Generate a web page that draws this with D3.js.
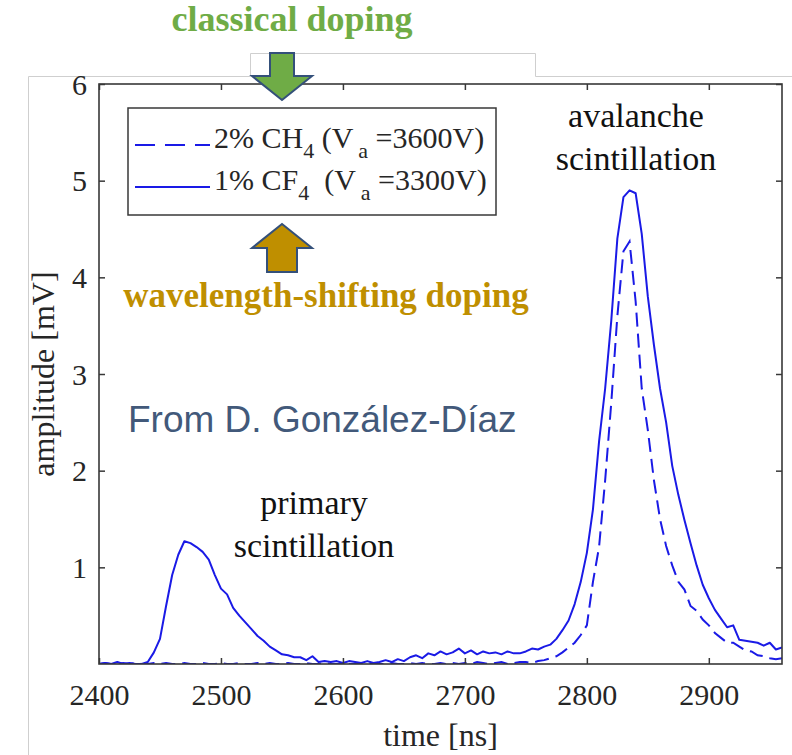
<!DOCTYPE html>
<html>
<head>
<meta charset="utf-8">
<script src="https://cdn.jsdelivr.net/npm/d3@7"></script>
<style>
  body { margin: 0; background: #fff; }
  svg { display: block; }
</style>
</head>
<body>
<svg id="chart" width="792" height="755"></svg>
<script>
// Sampling grid of the digitised pulses (ns)
const sampleTimes = d3.range(2400, 2961, 5);

// 1% CF4, Va = 3300 V (solid)
const cf4Amplitude = [
  0.00, 0.01, 0.00, 0.02, 0.00, 0.01, 0.00, 0.00, 0.02, 0.12,
  0.26, 0.60, 0.92, 1.13, 1.27, 1.25, 1.21, 1.16, 1.08, 0.92,
  0.78, 0.72, 0.58, 0.50, 0.43, 0.36, 0.29, 0.24, 0.18, 0.14,
  0.10, 0.09, 0.07, 0.07, 0.04, 0.08, 0.02, 0.03, 0.02, 0.03,
  0.01, 0.03, 0.02, 0.01, 0.03, 0.01, 0.02, 0.04, 0.02, 0.05,
  0.03, 0.07, 0.09, 0.06, 0.11, 0.09, 0.13, 0.10, 0.12, 0.16,
  0.11, 0.14, 0.10, 0.13, 0.11, 0.12, 0.10, 0.13, 0.11, 0.11,
  0.13, 0.16, 0.15, 0.18, 0.20, 0.26, 0.35, 0.45, 0.62, 0.85,
  1.15, 1.60, 2.30, 2.85, 3.55, 4.40, 4.83, 4.90, 4.87, 4.45,
  3.80, 3.30, 2.85, 2.50, 2.05, 1.75, 1.49, 1.25, 1.02, 0.82,
  0.68, 0.56, 0.47, 0.38, 0.40, 0.25, 0.24, 0.23, 0.22, 0.19,
  0.22, 0.15, 0.17
];

// 2% CH4, Va = 3600 V (dashed)
const ch4Amplitude = [
  0.00, 0.01, 0.00, 0.00, 0.01, 0.00, 0.01, 0.00, 0.00, 0.01,
  0.00, 0.01, 0.00, 0.00, 0.01, 0.00, 0.00, 0.01, 0.00, 0.00,
  0.01, 0.00, 0.00, 0.01, 0.00, 0.00, 0.01, 0.00, 0.01, 0.00,
  0.00, 0.01, 0.00, 0.00, 0.01, 0.00, 0.00, 0.01, 0.00, 0.00,
  0.01, 0.00, 0.00, 0.01, 0.00, 0.01, 0.00, 0.00, 0.01, 0.00,
  0.00, 0.01, 0.00, 0.01, 0.00, 0.00, 0.01, 0.00, 0.01, 0.00,
  0.01, 0.00, 0.02, 0.01, 0.00, 0.01, 0.02, 0.00, 0.01, 0.02,
  0.02, 0.01, 0.03, 0.04, 0.06, 0.08, 0.12, 0.17, 0.22, 0.30,
  0.40, 0.85, 1.21, 1.90, 2.70, 3.60, 4.27, 4.37, 3.75, 2.85,
  2.42, 1.90, 1.50, 1.22, 1.02, 0.85, 0.77, 0.60, 0.55, 0.46,
  0.40, 0.32, 0.27, 0.22, 0.22, 0.18, 0.14, 0.13, 0.09, 0.08,
  0.06, 0.05, 0.06
];

const xTickValues = [2400, 2500, 2600, 2700, 2800, 2900];
const yTickValues = [1, 2, 3, 4, 5, 6];

const legendRows = [
  { dash: true,  parts: ["2% CH", "4", " (V", "a", " =3600V)"] },
  { dash: false, parts: ["1% CF", "4", "  (V", "a", " =3300V)"] }
];

const serif = "'Liberation Serif', 'Times New Roman', serif";
const sans = "'Liberation Sans', Arial, sans-serif";
const lineBlue = "#1a1ae6";
const axisGrey = "#383838";
const textDark = "#262626";

const svg = d3.select("#chart");

// faint outline of the pasted figure
svg.append("path")
  .attr("d", "M28.5,755 V76.5 H250.5 V53.5 H535.5 V76.5 H792")
  .attr("fill", "none")
  .attr("stroke", "#cfcfcf")
  .attr("stroke-width", 1);

const x = d3.scaleLinear().domain([2400, 2960]).range([99, 782]);
const y = d3.scaleLinear().domain([0, 6]).range([664, 84]);

// plot area
svg.append("clipPath").attr("id", "plot-clip")
  .append("rect")
  .attr("x", x(2400)).attr("y", y(6))
  .attr("width", x(2960) - x(2400)).attr("height", y(0) - y(6));

const line = d3.line()
  .x((d, i) => x(sampleTimes[i]))
  .y(d => y(d));

const plot = svg.append("g").attr("clip-path", "url(#plot-clip)");

plot.append("path")
  .datum(cf4Amplitude)
  .attr("d", line)
  .attr("fill", "none")
  .attr("stroke", lineBlue)
  .attr("stroke-width", 2)
  .attr("stroke-linejoin", "round");

plot.append("path")
  .datum(ch4Amplitude)
  .attr("d", line)
  .attr("fill", "none")
  .attr("stroke", lineBlue)
  .attr("stroke-width", 2)
  .attr("stroke-dasharray", "14,7");

// axes with inward ticks on all four sides
const tickLen = 6;
const axisStyle = g => {
  g.select(".domain").remove();
  g.selectAll(".tick line").attr("stroke", axisGrey).attr("stroke-width", 1.5);
};

svg.append("g")
  .attr("transform", `translate(0,${y(0)})`)
  .call(d3.axisBottom(x).tickValues(xTickValues).tickSize(-tickLen).tickFormat(d3.format("d")))
  .call(axisStyle)
  .call(g => g.selectAll(".tick text")
    .attr("y", 41).attr("dy", 0)
    .attr("fill", textDark)
    .style("font-family", serif).style("font-size", "30px"));

svg.append("g")
  .attr("transform", `translate(0,${y(6)})`)
  .call(d3.axisTop(x).tickValues(xTickValues).tickSize(-tickLen).tickFormat(""))
  .call(axisStyle);

svg.append("g")
  .attr("transform", `translate(${x(2400)},0)`)
  .call(d3.axisLeft(y).tickValues(yTickValues).tickSize(-tickLen).tickFormat(d3.format("d")))
  .call(axisStyle)
  .call(g => g.selectAll(".tick text")
    .attr("x", -12).attr("dy", "0.34em")
    .attr("fill", textDark)
    .style("font-family", serif).style("font-size", "30px"));

svg.append("g")
  .attr("transform", `translate(${x(2960)},0)`)
  .call(d3.axisRight(y).tickValues(yTickValues).tickSize(-tickLen).tickFormat(""))
  .call(axisStyle);

svg.append("rect")
  .attr("x", x(2400)).attr("y", y(6))
  .attr("width", x(2960) - x(2400)).attr("height", y(0) - y(6))
  .attr("fill", "none")
  .attr("stroke", axisGrey)
  .attr("stroke-width", 1.6);

// axis titles
svg.append("text")
  .attr("x", (x(2400) + x(2960)) / 2).attr("y", 746)
  .attr("text-anchor", "middle")
  .attr("fill", textDark)
  .style("font-family", serif).style("font-size", "32px")
  .text("time [ns]");

svg.append("text")
  .attr("transform", `translate(54,${(y(0) + y(6)) / 2}) rotate(-90)`)
  .attr("text-anchor", "middle")
  .attr("fill", textDark)
  .style("font-family", serif).style("font-size", "32px")
  .text("amplitude [mV]");

// legend
const legend = svg.append("g");
legend.append("rect")
  .attr("x", 128).attr("y", 108).attr("width", 368).attr("height", 107)
  .attr("fill", "#fff")
  .attr("stroke", axisGrey).attr("stroke-width", 1.5);

const rowY = [145, 187];
legendRows.forEach((row, i) => {
  legend.append("line")
    .attr("x1", 135).attr("x2", 210)
    .attr("y1", rowY[i]).attr("y2", rowY[i])
    .attr("stroke", lineBlue).attr("stroke-width", 2)
    .attr("stroke-dasharray", row.dash ? "20,10" : null);

  const t = legend.append("text")
    .attr("x", 214).attr("y", rowY[i] + 3)
    .attr("fill", textDark)
    .attr("xml:space", "preserve")
    .style("white-space", "pre")
    .style("font-family", serif).style("font-size", "30px");
  row.parts.forEach((p, j) => {
    const sub = j % 2 === 1;
    t.append("tspan")
      .attr("dy", j === 0 ? 0 : (sub ? 10 : -10))
      .attr("dx", j === 3 ? 5 : 0)
      .style("font-size", sub ? "22px" : "30px")
      .text(p);
  });
});

// peak annotations
const notes = [
  { lines: ["avalanche", "scintillation"], cx: 636, y0: 127 },
  { lines: ["primary", "scintillation"], cx: 314, y0: 514 }
];
notes.forEach(n => {
  n.lines.forEach((s, k) => {
    svg.append("text")
      .attr("x", n.cx).attr("y", n.y0 + k * 43)
      .attr("text-anchor", "middle")
      .attr("fill", "#111")
      .style("font-family", serif).style("font-size", "34px")
      .text(s);
  });
});

svg.append("text")
  .attr("x", 128).attr("y", 432)
  .attr("fill", "#42597a")
  .style("font-family", sans).style("font-size", "37px")
  .text("From D. González-Díaz");

// doping arrows and captions
const arrowStroke = "#34507a";
const downArrow = [[270, 53], [294, 53], [294, 76], [312, 76], [282, 100], [252, 76], [270, 76]];
const upArrow = [[267, 272], [297, 272], [297, 248], [312, 248], [282, 224], [252, 248], [267, 248]];

svg.append("path")
  .attr("d", d3.line()(downArrow) + "Z")
  .attr("fill", "#6fac46").attr("stroke", arrowStroke).attr("stroke-width", 2)
  .attr("stroke-linejoin", "miter");

svg.append("path")
  .attr("d", d3.line()(upArrow) + "Z")
  .attr("fill", "#bf8f00").attr("stroke", arrowStroke).attr("stroke-width", 2)
  .attr("stroke-linejoin", "miter");

svg.append("text")
  .attr("x", 292).attr("y", 31)
  .attr("text-anchor", "middle")
  .attr("fill", "#6fac46")
  .style("font-family", serif).style("font-size", "36px").style("font-weight", "bold")
  .text("classical doping");

svg.append("text")
  .attr("x", 326).attr("y", 307)
  .attr("text-anchor", "middle")
  .attr("fill", "#bf8f00")
  .style("font-family", serif).style("font-size", "35px").style("font-weight", "bold")
  .text("wavelength-shifting doping");
</script>
</body>
</html>
